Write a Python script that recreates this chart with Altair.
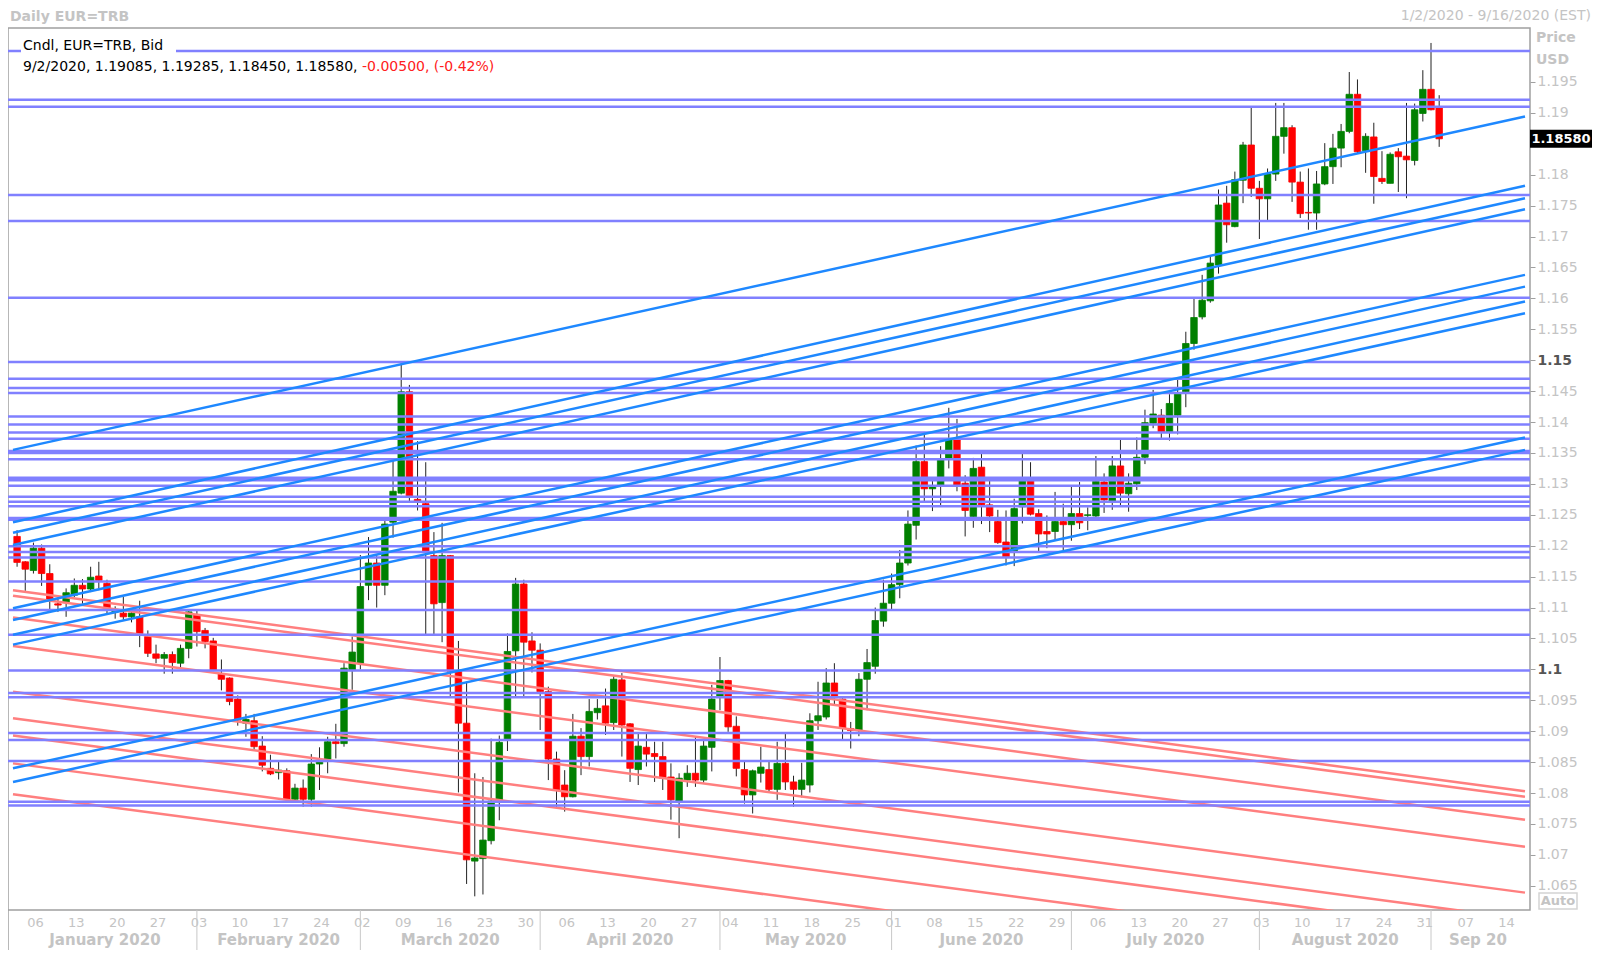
import altair as alt
import pandas as pd

# ---------------- data ----------------
opens = [1.1215,1.1174,1.1160,1.1196,1.1155,1.1106,1.1108,1.1120,1.1136,1.1130,1.1151,1.1139,1.1093,1.1091,1.1085,1.1085,1.1053,1.1025,1.1018,1.1024,1.1010,1.1034,
         1.1088,1.1063,1.1046,1.0993,1.0986,1.0952,1.0913,1.0917,1.0876,1.0840,1.0833,1.0836,1.0790,1.0808,1.0790,1.0847,1.0855,1.0883,1.0880,1.0998,
         1.1010,1.1136,1.1172,1.1136,1.1238,1.1285,1.1449,1.1275,1.1268,1.1184,1.1108,1.1184,1.0997,1.0913,1.0690,1.0694,1.0723,1.0787,1.0885,1.1030,1.1138,1.1046,
         1.1031,1.0964,1.0855,1.0813,1.0794,1.0892,1.0859,1.0930,1.0941,1.0914,1.0983,1.0912,1.0838,1.0874,1.0864,1.0859,1.0826,1.0787,1.0821,1.0832,1.0821,1.0874,
         1.0956,1.0982,1.0908,1.0838,1.0797,1.0832,1.0838,1.0806,1.0848,1.0818,1.0806,1.0813,1.0917,1.0923,1.0978,1.0952,1.0904,1.0901,1.0984,1.1005,1.1078,
         1.1107,1.1137,1.1172,1.1233,1.1336,1.1292,1.1298,1.1341,1.1371,1.1301,1.1247,1.1327,1.1266,1.1239,1.1206,1.1190,1.1263,1.1306,1.1252,1.1223,1.1223,1.1239,
         1.1234,1.1252,1.1249,1.1248,1.1303,1.1271,1.1329,1.1284,1.1300,1.1343,1.1398,1.1411,1.1384,1.1411,1.1449,1.1527,1.1570,1.1596,1.1654,1.1754,1.1716,1.1791,1.1848,
         1.1778,1.1761,1.1801,1.1862,1.1876,1.1788,1.1739,1.1738,1.1785,1.1813,1.1843,1.1870,1.1930,1.1839,1.1861,1.1794,1.1786,1.1837,1.1830,1.1823,1.1899,
         1.1938,1.19085]
highs = [1.1225,1.1175,1.1205,1.1202,1.1170,1.1116,1.1131,1.1147,1.1146,1.1166,1.1174,1.1145,1.1102,1.1117,1.1097,1.1111,1.1063,1.1040,1.1028,1.1029,1.1040,1.1096,
         1.1096,1.1067,1.1051,1.1016,1.0987,1.0958,1.0928,1.0928,1.0892,1.0862,1.0851,1.0840,1.0815,1.0822,1.0863,1.0874,1.0891,1.0912,1.1010,1.1053,
         1.1185,1.1214,1.1185,1.1240,1.1338,1.1495,1.1460,1.1369,1.1335,1.1222,1.1237,1.1185,1.1046,1.0980,1.0832,1.0826,1.0888,1.0893,1.1058,1.1148,1.1145,1.1060,
         1.1042,1.0972,1.0867,1.0837,1.0928,1.0905,1.0952,1.0952,1.0969,1.0989,1.0994,1.0913,1.0896,1.0897,1.0883,1.0883,1.0848,1.0832,1.0845,1.0891,1.0886,1.0975,
         1.1020,1.0983,1.0924,1.0851,1.0838,1.0875,1.0851,1.0883,1.0896,1.0828,1.0849,1.0929,1.0980,1.1002,1.1010,1.0953,1.0915,1.0994,1.1033,1.1100,1.1145,
         1.1155,1.1193,1.1257,1.1362,1.1384,1.1306,1.1361,1.1423,1.1405,1.1314,1.1342,1.1350,1.1306,1.1258,1.1257,1.1276,1.1349,1.1335,1.1259,1.1249,1.1287,1.1268,
         1.1296,1.1303,1.1262,1.1345,1.1317,1.1345,1.1372,1.1317,1.1375,1.1420,1.1452,1.1421,1.1445,1.1468,1.1546,1.1601,1.1638,1.1668,1.1776,1.1782,1.1805,1.1853,1.1908,
         1.1790,1.1810,1.1916,1.1916,1.1880,1.1805,1.1810,1.1806,1.1851,1.1866,1.1882,1.1966,1.1954,1.1867,1.1884,1.1838,1.1836,1.1843,1.1916,1.1915,1.1969,
         1.2013,1.19285]
lows = [1.1166,1.1127,1.1155,1.1135,1.1092,1.1093,1.1085,1.1117,1.1106,1.1125,1.1128,1.1088,1.1082,1.1080,1.1076,1.1036,1.1020,1.1010,1.0993,1.0993,1.1003,1.1018,
        1.1037,1.1034,1.0997,1.0966,1.0942,1.0909,1.0891,1.0868,1.0835,1.0829,1.0822,1.0788,1.0785,1.0778,1.0778,1.0805,1.0832,1.0856,1.0875,1.0967,
        1.1000,1.1112,1.1100,1.1120,1.1213,1.1283,1.1271,1.1257,1.1055,1.1055,1.1044,1.0955,1.0801,1.0653,1.0633,1.0636,1.0717,1.0756,1.0868,1.0955,1.0955,1.0995,
        1.0902,1.0821,1.0776,1.0770,1.0793,1.0829,1.0843,1.0919,1.0894,1.0902,1.0859,1.0818,1.0813,1.0843,1.0818,1.0805,1.0757,1.0727,1.0810,1.0810,1.0817,1.0835,
        1.0934,1.0899,1.0827,1.0783,1.0767,1.0817,1.0801,1.0789,1.0805,1.0778,1.0793,1.0801,1.0902,1.0919,1.0942,1.0886,1.0872,1.0892,1.0934,1.0993,1.1069,
        1.1096,1.1115,1.1168,1.1210,1.1270,1.1256,1.1263,1.1325,1.1288,1.1215,1.1229,1.1235,1.1222,1.1203,1.1168,1.1167,1.1236,1.1249,1.1190,1.1196,1.1209,1.1193,
        1.1208,1.1227,1.1225,1.1240,1.1253,1.1258,1.1263,1.1255,1.1290,1.1332,1.1390,1.1373,1.1370,1.1380,1.1424,1.1517,1.1566,1.1593,1.1640,1.1690,1.1715,1.1754,1.1764,
        1.1696,1.1726,1.1790,1.1834,1.1756,1.1730,1.1711,1.1711,1.1783,1.1785,1.1812,1.1867,1.1835,1.1803,1.1753,1.1785,1.1786,1.1772,1.1762,1.1815,1.1886,
        1.1904,1.1845]
closes = [1.1173,1.1162,1.1196,1.1155,1.1111,1.1104,1.1124,1.1136,1.1130,1.1149,1.1144,1.1096,1.1097,1.1085,1.1091,1.1058,1.1026,1.1018,1.1024,1.1011,1.1034,1.1093,
          1.1061,1.1045,1.0999,1.0984,1.0948,1.0918,1.0919,1.0875,1.0845,1.0831,1.0837,1.0790,1.0808,1.0790,1.0847,1.0853,1.0883,1.0880,1.1002,1.1028,
          1.1134,1.1172,1.1136,1.1235,1.1288,1.1449,1.1280,1.1270,1.1190,1.1106,1.1184,1.0997,1.0913,1.0692,1.0695,1.0724,1.0787,1.0882,1.1029,1.1138,1.1044,1.1031,
          1.0964,1.0855,1.0805,1.0794,1.0892,1.0859,1.0932,1.0937,1.0913,1.0984,1.0910,1.0840,1.0876,1.0863,1.0859,1.0824,1.0789,1.0824,1.0832,1.0821,1.0876,1.0952,
          1.0982,1.0907,1.0840,1.0797,1.0836,1.0842,1.0806,1.0848,1.0818,1.0806,1.0821,1.0917,1.0925,1.0978,1.0956,1.0905,1.0901,1.0984,1.1011,1.1079,1.1107,
          1.1137,1.1172,1.1235,1.1336,1.1292,1.1296,1.1341,1.1373,1.1298,1.1257,1.1325,1.1266,1.1248,1.1205,1.1182,1.1260,1.1305,1.1251,1.1219,1.1219,1.1239,1.1234,
          1.1252,1.1237,1.1250,1.1304,1.1274,1.1329,1.1285,1.1301,1.1343,1.1399,1.1413,1.1384,1.1430,1.1446,1.1527,1.1569,1.1597,1.1657,1.1751,1.1719,1.1792,1.1848,1.1778,
          1.1761,1.1801,1.1862,1.1876,1.1788,1.1737,1.1738,1.1785,1.1813,1.1843,1.1870,1.1930,1.1837,1.1862,1.1797,1.1789,1.1833,1.1829,1.1824,1.1905,1.1938,
          1.1905,1.1858]

h_levels = [1.2000, 1.1921, 1.1910, 1.1767, 1.1725, 1.1601, 1.1497, 1.1470, 1.1455, 1.1447,
            1.1409, 1.1396, 1.1383, 1.1373, 1.1353, 1.1350, 1.1340, 1.1310, 1.1306, 1.1297,
            1.1279, 1.1271, 1.1264, 1.1245, 1.1242, 1.1199, 1.1190, 1.1181, 1.1142, 1.1096,
            1.1056, 1.0998, 1.0962, 1.0955, 1.0897, 1.0886, 1.0852, 1.0786, 1.0780]

blue_start = [1.1355, 1.1238, 1.1221, 1.1201, 1.1099, 1.1080, 1.1056, 1.1040, 1.0840, 1.0818]
blue_end   = [1.1894, 1.1782, 1.1762, 1.1744, 1.1638, 1.1619, 1.1595, 1.1576, 1.1375, 1.1355]
red_start  = [1.1128, 1.1119, 1.1084, 1.1038, 1.0964, 1.0921, 1.0893, 1.0848, 1.0798]
red_end    = [1.0803, 1.0794, 1.0757, 1.0713, 1.0639, 1.0596, 1.0568, 1.0523, 1.0473]

day_labels = ["06","13","20","27","03","10","17","24","02","09","16","23","30","06","13","20","27",
              "04","11","18","25","01","08","15","22","29","06","13","20","27","03","10","17","24","31","07","14"]
month_names = ["January 2020","February 2020","March 2020","April 2020","May 2020",
               "June 2020","July 2020","August 2020","Sep 20"]
month_first = [22, 42, 64, 86, 107, 129, 152, 173]

title_text = "Daily EUR=TRB"
range_text = "1/2/2020 - 9/16/2020 (EST)"
legend_line1 = "Cndl, EUR=TRB, Bid"
legend_black = "9/2/2020, 1.19085, 1.19285, 1.18450, 1.18580,"
legend_red = "-0.00500, (-0.42%)"
last_price_text = "1.18580"
unit_texts = ["Price", "USD"]

# ---------------- layout ----------------
W, H = 1522, 882
X0, X1 = -0.5, 184.5
Y0, Y1 = 1.06109, 1.20372
FONT = "DejaVu Sans"
LIGHT = "#c4c4c4"

xs = alt.Scale(domain=[X0, X1], nice=False, zero=False)
ys = alt.Scale(domain=[Y0, Y1], nice=False, zero=False)

n = len(opens)
candles = pd.DataFrame({"i": list(range(n)), "o": opens, "h": highs, "l": lows, "c": closes})
candles["dir"] = ["up" if c >= o else "down" for o, c in zip(opens, closes)]

# the 1.185 label sits under the last-price box, as in the reference
tick_vals = [round(1.065 + 0.005 * k, 3) for k in range(27) if round(1.065 + 0.005 * k, 3) != 1.185]
is_major = "abs(datum.value-1.1)<1e-6 || abs(datum.value-1.15)<1e-6"
yaxis = alt.Axis(orient="right", values=tick_vals, format=".3~f", tickSize=5, tickColor="#a0a0a0",
                 domain=False, grid=False, title=None, labelFont=FONT, labelFontSize=14, labelPadding=2,
                 labelColor=alt.condition(is_major, alt.value("#555555"), alt.value(LIGHT)),
                 labelFontWeight=alt.condition(is_major, alt.value("bold"), alt.value("normal")))

def YQ(field):
    return alt.Y(field, scale=ys, axis=yaxis)

X = alt.X("i:Q", scale=xs, axis=None)

wicks = alt.Chart(candles).mark_rule(color="#222222", strokeWidth=1).encode(
    x=X, y=YQ("l:Q"), y2="h:Q")

dir_scale = alt.Scale(domain=["up", "down"], range=["#008000", "#ff0000"])
bodies = alt.Chart(candles).mark_bar(size=6.5, strokeWidth=0.8).encode(
    x=X, y=YQ("o:Q"), y2="c:Q",
    color=alt.Color("dir:N", scale=dir_scale, legend=None),
    stroke=alt.Stroke("dir:N", scale=dir_scale, legend=None))

hl = pd.DataFrame({"p": h_levels})
hlines = alt.Chart(hl).mark_rule(color="#8080ff", strokeWidth=2.5).encode(y=YQ("p:Q"))

def diag_frame(starts, ends):
    rows = []
    for k, (s, e) in enumerate(zip(starts, ends)):
        rows.append({"id": k, "x": X0, "p": s})
        rows.append({"id": k, "x": X1, "p": e})
    return pd.DataFrame(rows)

blue = alt.Chart(diag_frame(blue_start, blue_end)).mark_line(color="#1e88ff", strokeWidth=2.5, clip=True).encode(
    x=alt.X("x:Q", scale=xs, axis=None), y=YQ("p:Q"), detail="id:N")
red = alt.Chart(diag_frame(red_start, red_end)).mark_line(color="#ff7f7f", strokeWidth=2.5, clip=True).encode(
    x=alt.X("x:Q", scale=xs, axis=None), y=YQ("p:Q"), detail="id:N")

# x-axis labels
dl = pd.DataFrame({"i": [2 + 5 * k for k in range(len(day_labels))], "t": day_labels})
days = alt.Chart(dl).mark_text(font=FONT, fontSize=13, color=LIGHT, baseline="middle", dx=2).encode(
    x=X, y=alt.value(H + 13), text="t:N")

bounds = [X0] + month_first + [X1]
ml = pd.DataFrame({"i": [(bounds[k] + bounds[k + 1]) / 2 for k in range(len(month_names))], "t": month_names})
months = alt.Chart(ml).mark_text(font=FONT, fontSize=15, fontWeight="bold", color=LIGHT, baseline="middle").encode(
    x=X, y=alt.value(H + 30), text="t:N")

seps = alt.Chart(pd.DataFrame({"i": month_first})).mark_rule(color="#c8c8c8", strokeWidth=1).encode(
    x=X, y=alt.value(H), y2=alt.value(H + 40))
left_ext = alt.Chart(pd.DataFrame({"i": [0]})).mark_rule(color="#a0a0a0", strokeWidth=1.5).encode(
    x=alt.value(0), y=alt.value(H), y2=alt.value(H + 40))

def label(text, x, y, size=14, weight="normal", color=LIGHT, align="left"):
    return alt.Chart(pd.DataFrame({"t": [text]})).mark_text(
        font=FONT, fontSize=size, fontWeight=weight, color=color, align=align, baseline="middle").encode(
        x=alt.value(x), y=alt.value(y), text="t:N")

blank = alt.Chart(pd.DataFrame({"t": [legend_line1]})).mark_rect(color="white").encode(
    x=alt.value(13), x2=alt.value(168), y=alt.value(12), y2=alt.value(27))

texts = [
    label(title_text, 2, -11, size=14, weight="bold"),
    label(range_text, 1583, -12, size=14, align="right"),
    label(unit_texts[0], 1528, 10, size=14, weight="bold"),
    label(unit_texts[1], 1528, 32, size=14, weight="bold"),
    label(legend_line1, 15, 18, size=14, color="#000000"),
    label(legend_black, 15, 39, size=14, color="#000000"),
    label(legend_red, 354, 39, size=14, color="#ff2020"),
]

last_close = closes[-1]
half = 9 * (Y1 - Y0) / H
pbox = pd.DataFrame({"p": [last_close], "hi": [last_close + half], "lo": [last_close - half], "t": [last_price_text]})
price_rect = alt.Chart(pbox).mark_rect(color="black").encode(
    x=alt.value(1522), x2=alt.value(1584), y=YQ("hi:Q"), y2="lo:Q")
price_text = alt.Chart(pbox).mark_text(font=FONT, fontSize=13, fontWeight="bold", color="white", baseline="middle").encode(
    x=alt.value(1553), y=YQ("p:Q"), text="t:N")

auto_rect = alt.Chart(pd.DataFrame({"t": ["Auto"]})).mark_rect(fill="white", stroke="#d4d4d4", strokeWidth=1.5).encode(
    x=alt.value(1531), x2=alt.value(1569), y=alt.value(H - 17), y2=alt.value(H - 1))
auto_text = label("Auto", 1550, H - 9, size=13, weight="bold", align="center")

chart = alt.layer(
    wicks, bodies, red, hlines, blue, blank, *texts,
    days, months, seps, left_ext, price_rect, price_text, auto_rect, auto_text
).properties(
    width=W, height=H,
    padding={"left": 0, "top": 20, "right": 62, "bottom": 40},
    autosize="none",
    background="white",
).configure_view(stroke="#a0a0a0", strokeWidth=1.5)

chart.save("out.html", embed_options={"renderer": "svg", "actions": False})
